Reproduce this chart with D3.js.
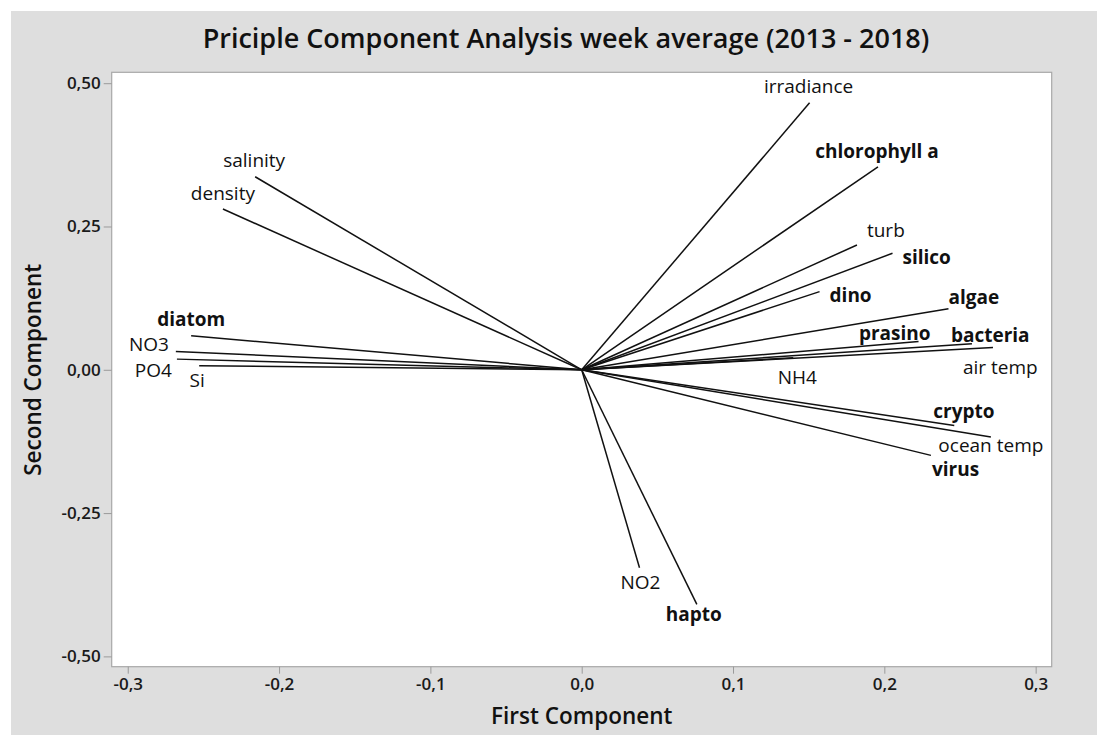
<!DOCTYPE html>
<html>
<head>
<meta charset="utf-8">
<script src="https://cdn.jsdelivr.net/npm/d3@7"></script>
<style>
  html, body { margin: 0; padding: 0; background: #fff; }
  text { font-family: "Open Sans", "Noto Sans", sans-serif; }
</style>
</head>
<body>
<div id="chart"></div>
<script>
'use strict';

// loadings
var variables = ["irradiance", "chlorophyll a", "turb", "silico", "dino", "algae", "prasino",
                 "bacteria", "air temp", "NH4", "crypto", "ocean temp", "virus", "NO2", "hapto",
                 "salinity", "density", "diatom", "NO3", "PO4", "Si"];
var firstComp  = [0.1506, 0.1958, 0.1819, 0.2054, 0.1572, 0.2424, 0.2226,
                  0.2579, 0.2718, 0.1398, 0.2462, 0.2704, 0.2308, 0.0382, 0.0761,
                  -0.2158, -0.2371, -0.2581, -0.2682, -0.2675, -0.2528];
var secondComp = [0.4657, 0.3542, 0.2178, 0.2033, 0.1364, 0.1063, 0.0493,
                  0.0453, 0.0389, 0.0210, -0.0970, -0.1173, -0.1493, -0.3455, -0.4094,
                  0.3368, 0.2805, 0.0592, 0.0319, 0.0186, 0.0070];
var xTicks = [-0.3, -0.2, -0.1, 0.0, 0.1, 0.2, 0.3];
var yTicks = [-0.50, -0.25, 0.00, 0.25, 0.50];

// biological variables are printed in bold
var boldVars = ["chlorophyll a", "silico", "dino", "algae", "prasino", "bacteria",
                "crypto", "virus", "hapto", "diatom"];

// label nudges from the arrow tip: [dx, dy, anchor]
var labelNudge = {
  "irradiance":    [-1, -17, "middle"],
  "chlorophyll a": [-1, -16, "middle"],
  "turb":          [10, -15, "start"],
  "silico":        [10, 4, "start"],
  "dino":          [10, 3, "start"],
  "algae":         [0, -12, "start"],
  "prasino":       [12, -9, "end"],
  "bacteria":      [-21, -9, "start"],
  "air temp":      [-30, 20, "start"],
  "NH4":           [4, 19, "middle"],
  "crypto":        [-21, -14, "start"],
  "ocean temp":    [0, 8, "middle"],
  "virus":         [1, 14, "start"],
  "NO2":           [1, 14, "middle"],
  "hapto":         [-3, 10, "middle"],
  "salinity":      [-1, -17, "middle"],
  "density":       [0, -16, "middle"],
  "diatom":        [0, -17, "middle"],
  "NO3":           [-7, -8, "end"],
  "PO4":           [-5, 11, "end"],
  "Si":            [-2, 14, "middle"]
};

var width = 1097, height = 735;
var plot = { left: 111.7, top: 72.3, right: 1051.7, bottom: 666.7 };

var svg = d3.select("#chart").append("svg")
    .attr("width", width)
    .attr("height", height);

// grey page
svg.append("rect")
    .attr("x", 11).attr("y", 11)
    .attr("width", width - 11).attr("height", height - 11)
    .attr("fill", "#dedede");

var x = d3.scaleLinear().domain([-0.3106, 0.3106]).range([plot.left, plot.right]);
var y = d3.scaleLinear().domain([-0.518, 0.519]).range([plot.bottom, plot.top]);

var comma = function (f) { return function (d) { return d3.format(f)(d).replace(".", ",").replace("−", "-"); }; };

// plot area
svg.append("rect")
    .attr("x", plot.left).attr("y", plot.top)
    .attr("width", plot.right - plot.left).attr("height", plot.bottom - plot.top)
    .attr("fill", "#fff")
    .attr("stroke", "#a8a8a8")
    .attr("stroke-width", 1.2);

// axes
var xAxis = svg.append("g")
    .attr("transform", "translate(0," + plot.bottom + ")")
    .call(d3.axisBottom(x).tickValues(xTicks).tickFormat(comma(".1f")).tickSize(7).tickPadding(4));
var yAxis = svg.append("g")
    .attr("transform", "translate(" + plot.left + ",0)")
    .call(d3.axisLeft(y).tickValues(yTicks).tickFormat(comma(".2f")).tickSize(8).tickPadding(3));

[xAxis, yAxis].forEach(function (ax) {
  ax.select(".domain").remove();
  ax.selectAll(".tick line").attr("stroke", "#9a9a9a");
  ax.selectAll(".tick text")
      .attr("fill", "#1a1a1a")
      .style("font-size", "17px")
      .style("font-weight", 600);
});

// vectors
var data = variables.map(function (v, i) {
  return { name: v, pc1: firstComp[i], pc2: secondComp[i] };
});

var vec = svg.append("g");
vec.selectAll("line")
    .data(data)
  .enter().append("line")
    .attr("x1", x(0)).attr("y1", y(0))
    .attr("x2", function (d) { return x(d.pc1); })
    .attr("y2", function (d) { return y(d.pc2); })
    .attr("stroke", "#111")
    .attr("stroke-width", 1.5);

vec.selectAll("text")
    .data(data)
  .enter().append("text")
    .attr("x", function (d) { return x(d.pc1) + labelNudge[d.name][0]; })
    .attr("y", function (d) { return y(d.pc2) + labelNudge[d.name][1]; })
    .attr("text-anchor", function (d) { return labelNudge[d.name][2]; })
    .attr("dominant-baseline", "central")
    .attr("fill", "#111")
    .style("font-size", "19px")
    .style("font-weight", function (d) { return boldVars.indexOf(d.name) >= 0 ? 700 : 400; })
    .text(function (d) { return d.name; });

// titles
svg.append("text")
    .attr("x", 566).attr("y", 48)
    .attr("text-anchor", "middle")
    .attr("fill", "#111")
    .style("font-size", "27px")
    .style("font-weight", 600)
    .text("Priciple Component Analysis week average (2013 - 2018)");

svg.append("text")
    .attr("x", x(0)).attr("y", 724)
    .attr("text-anchor", "middle")
    .attr("fill", "#111")
    .style("font-size", "22.5px")
    .style("font-weight", 600)
    .text("First Component");

svg.append("text")
    .attr("transform", "translate(41," + y(0) + ") rotate(-90)")
    .attr("text-anchor", "middle")
    .attr("fill", "#111")
    .style("font-size", "22.5px")
    .style("font-weight", 600)
    .text("Second Component");
</script>
</body>
</html>
